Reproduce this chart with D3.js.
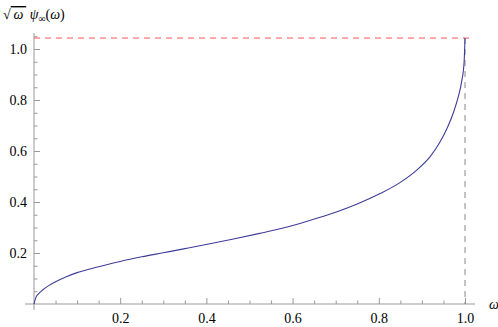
<!DOCTYPE html>
<html><head><meta charset="utf-8">
<script src="https://cdn.jsdelivr.net/npm/d3@7"></script>
<style>html,body{margin:0;padding:0;background:#fff;}svg{display:block;}
text{font-family:"Liberation Serif","Times New Roman","DejaVu Serif",serif;}</style>
</head><body>
<svg id="c" width="498" height="327"></svg>
<script>
const omega = [0, 0.005, 0.01, 0.02, 0.035, 0.05, 0.075, 0.1, 0.15, 0.2, 0.25, 0.3, 0.35, 0.408, 0.46, 0.524, 0.571, 0.617, 0.66, 0.7, 0.75, 0.803, 0.85, 0.888, 0.92, 0.942, 0.96, 0.974, 0.984, 0.992, 0.998, 1.0];
const psi   = [0, 0.028, 0.039, 0.055, 0.073, 0.087, 0.107, 0.123, 0.146, 0.167, 0.185, 0.201, 0.217, 0.236, 0.254, 0.277, 0.295, 0.316, 0.338, 0.36, 0.392, 0.433, 0.477, 0.525, 0.58, 0.635, 0.695, 0.755, 0.81, 0.87, 0.95, 1.043];
const peakValue = 1.043;
const xMajor = [0.2, 0.4, 0.6, 0.8, 1.0];
const yMajor = [0.2, 0.4, 0.6, 0.8, 1.0];
const minorTicks = [0.05,0.1,0.15,0.25,0.3,0.35,0.45,0.5,0.55,0.65,0.7,0.75,0.85,0.9,0.95,1.05];

const svg = d3.select("#c");
const x = d3.scaleLinear().domain([0, 1]).range([34, 465]);
const y = d3.scaleLinear().domain([0, 1]).range([304, 49]);
const axisColor = "#999";
const font = '"Liberation Serif","Times New Roman","DejaVu Serif",serif';

// axis lines
svg.append("line").attr("x1", 25).attr("x2", 475).attr("y1", y(0)).attr("y2", y(0))
  .attr("stroke", axisColor).attr("stroke-width", 1);
svg.append("line").attr("x1", x(0)).attr("x2", x(0)).attr("y1", 33).attr("y2", 310)
  .attr("stroke", axisColor).attr("stroke-width", 1);

// x axis
const gx = svg.append("g").attr("transform", `translate(0,${y(0)})`)
  .call(d3.axisBottom(x).tickValues(xMajor).tickSize(-6).tickPadding(9).tickFormat(d3.format(".1f")));
const gxm = svg.append("g").attr("transform", `translate(0,${y(0)})`)
  .call(d3.axisBottom(x).tickValues(minorTicks.filter(d => d < 1)).tickSize(-3.5).tickFormat(""));
// y axis
const gy = svg.append("g").attr("transform", `translate(${x(0)},0)`)
  .call(d3.axisLeft(y).tickValues(yMajor).tickSize(-6).tickPadding(7).tickFormat(d3.format(".1f")));
const gym = svg.append("g").attr("transform", `translate(${x(0)},0)`)
  .call(d3.axisLeft(y).tickValues(minorTicks).tickSize(-3.5).tickFormat(""));

[gx, gxm, gy, gym].forEach(g => {
  g.attr("font-family", font).attr("font-size", 14);
  g.select(".domain").remove();
  g.selectAll(".tick line").attr("stroke", axisColor).attr("stroke-width", 1);
  g.selectAll("text").attr("fill", "#000");
});
gx.selectAll("text").attr("dy", "0.71em");

// reference lines
svg.append("line").attr("x1", x(0)).attr("x2", 470).attr("y1", y(peakValue)).attr("y2", y(peakValue))
  .attr("stroke", "#ff5555").attr("stroke-width", 1).attr("stroke-dasharray", "6,5");
svg.append("line").attr("x1", x(1)).attr("x2", x(1)).attr("y1", y(peakValue)).attr("y2", y(0))
  .attr("stroke", "#888").attr("stroke-width", 1).attr("stroke-dasharray", "6,5");

// curve
const data = omega.map((w, i) => [w, psi[i]]);
svg.append("path").datum(data)
  .attr("d", d3.line().x(d => x(d[0])).y(d => y(d[1])).curve(d3.curveMonotoneX))
  .attr("fill", "none").attr("stroke", "#3d3d99").attr("stroke-width", 1.1);

// axis labels
svg.append("text").attr("x", 489).attr("y", 309).attr("font-family", font).attr("font-size", 14)
  .attr("font-style", "italic").text("ω");

const t = svg.append("text").attr("x", 3).attr("y", 19).attr("font-family", font).attr("font-size", 14);
t.append("tspan").text("√");
t.append("tspan").attr("font-style", "italic").attr("text-decoration", "overline").text("\u2009ω\u2009");
t.append("tspan").text(" ");
t.append("tspan").attr("font-style", "italic").text("ψ");
t.append("tspan").attr("dy", 3).attr("font-size", 10).text("∞");
t.append("tspan").attr("dy", -3).text("(");
t.append("tspan").attr("font-style", "italic").text("ω");
t.append("tspan").text(")");
</script>
</body></html>
